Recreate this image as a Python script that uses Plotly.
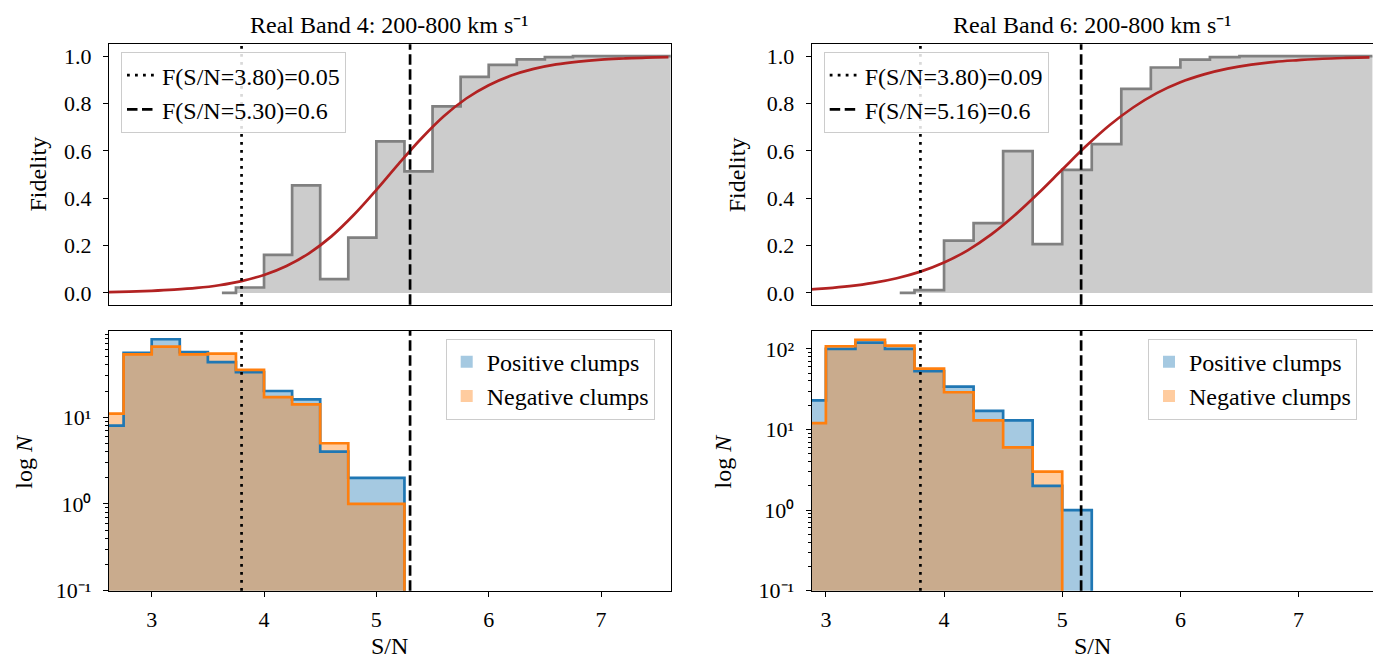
import plotly.graph_objects as go

# ---------------- data ----------------
# fidelity histogram (step, where='mid'): bin centres and values
fid_centers = [3.625, 3.875, 4.125, 4.375, 4.625, 4.875, 5.125, 5.375, 5.625,
               5.875, 6.125, 6.375, 6.625, 6.875, 7.125, 7.375, 7.625]
fid_band4 = [0.0, 0.023, 0.161, 0.454, 0.058, 0.234, 0.640, 0.513, 0.788,
             0.912, 0.963, 0.986, 0.996, 1.0, 1.0, 1.0, 1.0]
fid_band6 = [0.0, 0.012, 0.221, 0.295, 0.599, 0.206, 0.520, 0.628, 0.862,
             0.952, 0.985, 0.996, 1.0, 1.0, 1.0, 1.0, 1.0]

# fitted fidelity curve
curve_sn = [2.6, 2.8, 3.0, 3.2, 3.4, 3.6, 3.8, 4.0, 4.2, 4.4, 4.6, 4.8, 5.0,
            5.2, 5.4, 5.6, 5.8, 6.0, 6.2, 6.4, 6.6, 6.8, 7.0, 7.2, 7.4, 7.6]
curve_band4 = [0.0036, 0.0056, 0.0088, 0.0137, 0.0211, 0.0326, 0.0501, 0.0761,
               0.114, 0.1675, 0.239, 0.330, 0.435, 0.546, 0.652, 0.746, 0.821,
               0.877, 0.918, 0.946, 0.965, 0.977, 0.985, 0.990, 0.994, 0.996]
curve_band6 = [0.0110, 0.0132, 0.0196, 0.0289, 0.0425, 0.0622, 0.090, 0.1285,
               0.180, 0.247, 0.329, 0.422, 0.521, 0.619, 0.708, 0.783, 0.844,
               0.890, 0.923, 0.947, 0.964, 0.976, 0.983, 0.989, 0.9925, 0.995]

# thresholds
thr_band4 = [3.80, 5.30]
fval_band4 = [0.05, 0.6]
thr_band6 = [3.80, 5.16]
fval_band6 = [0.09, 0.6]

# clump-count histograms (bin edges, counts)
edges_band4 = [2.5, 2.75, 3.0, 3.25, 3.5, 3.75, 4.0, 4.25, 4.5, 4.75, 5.0, 5.25]
pos_band4 = [8, 55, 79, 56, 43, 33, 20, 16, 4, 2, 2]
neg_band4 = [11, 53, 65, 53, 54, 35, 17, 14, 5, 1, 1]

edges_band6_pos = [2.75, 3.0, 3.25, 3.5, 3.75, 4.0, 4.25, 4.5, 4.75, 5.0, 5.25]
pos_band6 = [23, 100, 120, 100, 53, 34, 17, 13, 2, 1]
edges_band6_neg = [2.75, 3.0, 3.25, 3.5, 3.75, 4.0, 4.25, 4.5, 4.75, 5.0]
neg_band6 = [12, 108, 130, 110, 57, 29, 13, 6, 3]

titles = ["Real Band 4: 200-800 km s\u207b\u00b9",
          "Real Band 6: 200-800 km s\u207b\u00b9"]
xranges = [[2.62, 7.62], [2.88, 7.63]]
log_ranges = [[-1, 1.994], [-1, 2.224]]
log_tickvals = [0.1, 1, 10, 100]
log_ticktext = ["10\u207b\u00b9", "10\u2070", "10\u00b9", "10\u00b2"]

# ---------------- layout geometry (pixels) ----------------
W, H = 1381, 666
COLS = [(101, 662.7), (803.7, 1365.0)]
TOP = (37.0, 302.7)
BOT = (329.3, 594.3)
FONT = "Liberation Serif"
FS = 22
TFS = 24


def px(x):
    return x / W


def py(y):
    return 1 - y / H


BLUE = "#1f77b4"
ORANGE = "#ff7f0e"
BLUE_F = "rgba(31,119,180,0.4)"
ORANGE_F = "rgba(255,127,14,0.4)"
DOT = "2.8px,5.2px"
DASH = "10.5px,4.5px"
LW = 2.7

fig = go.Figure()
shapes = []
annotations = []

panels = [
    dict(fid=fid_band4, curve=curve_band4, thr=thr_band4, fv=fval_band4,
         pe=edges_band4, pos=pos_band4, ne=edges_band4, neg=neg_band4),
    dict(fid=fid_band6, curve=curve_band6, thr=thr_band6, fv=fval_band6,
         pe=edges_band6_pos, pos=pos_band6, ne=edges_band6_neg, neg=neg_band6),
]

for i, p in enumerate(panels):
    xt = "x" if i == 0 else "x2"
    yt = "y" if i == 0 else "y2"
    xb = "x3" if i == 0 else "x4"
    yb = "y3" if i == 0 else "y4"
    leg_top = "legend" if i == 0 else "legend2"
    leg_bot = "legend3" if i == 0 else "legend4"

    # fidelity step histogram
    fig.add_trace(go.Scatter(x=fid_centers, y=p["fid"], mode="lines",
                             line=dict(color="#808080", width=LW, shape="hvh"),
                             fill="tozeroy", fillcolor="#cccccc",
                             xaxis=xt, yaxis=yt, showlegend=False,
                             hoverinfo="skip"))
    # fitted curve
    fig.add_trace(go.Scatter(x=curve_sn, y=p["curve"], mode="lines",
                             line=dict(color="#b22222", width=LW, shape="spline"),
                             xaxis=xt, yaxis=yt, showlegend=False))
    # legend entries for thresholds
    for k, dsh in enumerate([DOT, DASH]):
        fig.add_trace(go.Scatter(x=[None], y=[None], mode="lines",
                                 line=dict(color="black", width=LW, dash=dsh),
                                 name=f"F(S/N={p['thr'][k]:.2f})={p['fv'][k]:g}",
                                 xaxis=xt, yaxis=yt, legend=leg_top,
                                 showlegend=True))

    # count histograms: filled bars
    for edges, counts, col, name in [(p["pe"], p["pos"], BLUE_F, "Positive clumps"),
                                     (p["ne"], p["neg"], ORANGE_F, "Negative clumps")]:
        centers = [(edges[j] + edges[j + 1]) / 2 for j in range(len(counts))]
        fig.add_trace(go.Bar(x=centers, y=counts, width=0.25,
                             marker=dict(color=col, line=dict(width=0)),
                             name=name, xaxis=xb, yaxis=yb, legend=leg_bot,
                             showlegend=True))
    # outlines
    floor = 0.01
    for edges, counts, col in [(p["pe"], p["pos"], BLUE), (p["ne"], p["neg"], ORANGE)]:
        xs = [edges[0]] + list(edges) + [edges[-1]]
        ys = [floor] + list(counts) + [counts[-1], floor]
        fig.add_trace(go.Scatter(x=xs, y=ys, mode="lines",
                                 line=dict(color=col, width=LW, shape="hv"),
                                 xaxis=xb, yaxis=yb, showlegend=False))

    # vertical threshold lines in both panels
    for xa, ya in [(xt, yt), (xb, yb)]:
        for k, dsh in enumerate([DOT, DASH]):
            shapes.append(dict(type="line", xref=xa, yref=f"{ya} domain",
                               x0=p["thr"][k], x1=p["thr"][k], y0=0, y1=1,
                               line=dict(color="black", width=LW, dash=dsh),
                               layer="above"))

    x0, x1 = COLS[i]
    dx = 0 if i == 0 else -4
    # titles
    annotations.append(dict(text=titles[i], x=px((x0 + x1) / 2), y=py(17),
                            xref="paper", yref="paper", showarrow=False,
                            xanchor="center", yanchor="middle",
                            font=dict(family=FONT, size=TFS, color="black")))
    # y labels
    annotations.append(dict(text="Fidelity", x=px(x0 - 71 + dx), y=py(sum(TOP) / 2),
                            xref="paper", yref="paper", showarrow=False,
                            textangle=-90, xanchor="center", yanchor="middle",
                            font=dict(family=FONT, size=TFS, color="black")))
    annotations.append(dict(text="log <i>N</i>", x=px(x0 - 85 + dx), y=py(sum(BOT) / 2),
                            xref="paper", yref="paper", showarrow=False,
                            textangle=-90, xanchor="center", yanchor="middle",
                            font=dict(family=FONT, size=TFS, color="black")))
    # x label
    annotations.append(dict(text="S/N", x=px((x0 + x1) / 2), y=py(651),
                            xref="paper", yref="paper", showarrow=False,
                            xanchor="center", yanchor="middle",
                            font=dict(family=FONT, size=TFS, color="black")))

axis_common = dict(showline=True, linecolor="black", linewidth=1.3, mirror=True,
                   showgrid=False, zeroline=False, ticks="outside", ticklen=5,
                   tickwidth=1.2, tickcolor="black",
                   tickfont=dict(family=FONT, size=FS, color="black"))

layout = dict(width=W, height=H, margin=dict(l=0, r=0, t=0, b=0),
              plot_bgcolor="white", paper_bgcolor="white", barmode="overlay",
              bargap=0, font=dict(family=FONT, size=FS, color="black"),
              shapes=shapes, annotations=annotations)

minor_vals = [m * d for d in log_tickvals for m in range(2, 10)]
for i in range(2):
    x0, x1 = COLS[i]
    sfx_t = "" if i == 0 else "2"
    sfx_b = "3" if i == 0 else "4"
    layout[f"xaxis{sfx_t}"] = dict(axis_common, domain=[px(x0), px(x1)],
                                   anchor=f"y{sfx_t}", range=xranges[i],
                                   ticks="", showticklabels=False)
    layout[f"yaxis{sfx_t}"] = dict(axis_common, domain=[py(TOP[1]), py(TOP[0])],
                                   anchor=f"x{sfx_t}", range=[-0.05, 1.05],
                                   tickvals=[0, 0.2, 0.4, 0.6, 0.8, 1.0],
                                   tickformat=".1f", ticklabelstandoff=7)
    layout[f"xaxis{sfx_b}"] = dict(axis_common, domain=[px(x0), px(x1)],
                                   anchor=f"y{sfx_b}", range=xranges[i],
                                   tickvals=[3, 4, 5, 6, 7], ticklabelstandoff=4)
    layout[f"yaxis{sfx_b}"] = dict(axis_common, domain=[py(BOT[1]), py(BOT[0])],
                                   anchor=f"x{sfx_b}", type="log",
                                   range=log_ranges[i],
                                   tickvals=log_tickvals, ticktext=log_ticktext,
                                   ticklabelstandoff=7,
                                   minor=dict(tickmode="array", tickvals=minor_vals,
                                              ticks="outside", ticklen=3,
                                              tickwidth=1, tickcolor="black"))

leg_common = dict(bgcolor="rgba(255,255,255,0.85)", bordercolor="#cccccc",
                  borderwidth=1, font=dict(family=FONT, size=TFS, color="black"),
                  traceorder="normal", tracegroupgap=0)
layout["legend"] = dict(leg_common, x=px(COLS[0][0] + 12), y=py(TOP[0] + 8),
                        xanchor="left", yanchor="top")
layout["legend2"] = dict(leg_common, x=px(COLS[1][0] + 12), y=py(TOP[0] + 8),
                         xanchor="left", yanchor="top")
layout["legend3"] = dict(leg_common, x=px(COLS[0][1] - 16), y=py(BOT[0] + 8),
                         xanchor="right", yanchor="top")
layout["legend4"] = dict(leg_common, x=px(COLS[1][1] - 16), y=py(BOT[0] + 8),
                         xanchor="right", yanchor="top")

fig.update_layout(**layout)
fig.update_xaxes(tickfont=dict(family=FONT, size=FS, color="black"))
fig.update_yaxes(tickfont=dict(family=FONT, size=FS, color="black"))
fig.write_html("out.html")
